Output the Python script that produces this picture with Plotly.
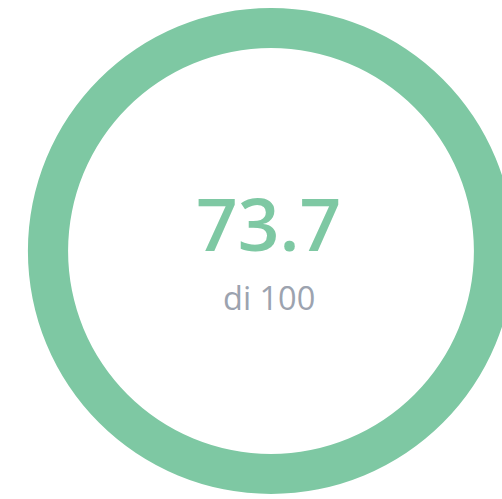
import plotly.graph_objects as go

score = 73.7
max_score = 100
labels = ["Punteggio"]
values = [score]
main_text = "73.7"
sub_text = "di 100"

GREEN = "#7EC8A3"
GREY = "#9CA3AF"

fig = go.Figure(go.Pie(
    labels=labels, values=values, hole=0.835, sort=False,
    domain=dict(x=[0, 1], y=[0.01, 0.984]),
    marker=dict(colors=[GREEN], line=dict(width=0)),
    textinfo="none", hoverinfo="skip", showlegend=False,
))
fig.add_annotation(text=main_text, x=0.4952, y=0.555, xref="paper", yref="paper",
                   showarrow=False, xanchor="center", yanchor="middle",
                   font=dict(family="Open Sans", size=73, color=GREEN, weight=600))
fig.add_annotation(text=sub_text, x=0.4954, y=0.4038, xref="paper", yref="paper",
                   showarrow=False, xanchor="center", yanchor="middle",
                   font=dict(family="Open Sans", size=32.5, color=GREY))
fig.update_layout(width=542, height=499, autosize=False,
                  margin=dict(l=0, r=0, t=0, b=0), paper_bgcolor="white")
fig.write_html("out.html", config={"displayModeBar": False},
               post_script="document.body.style.margin='0';document.body.style.overflow='hidden';")
